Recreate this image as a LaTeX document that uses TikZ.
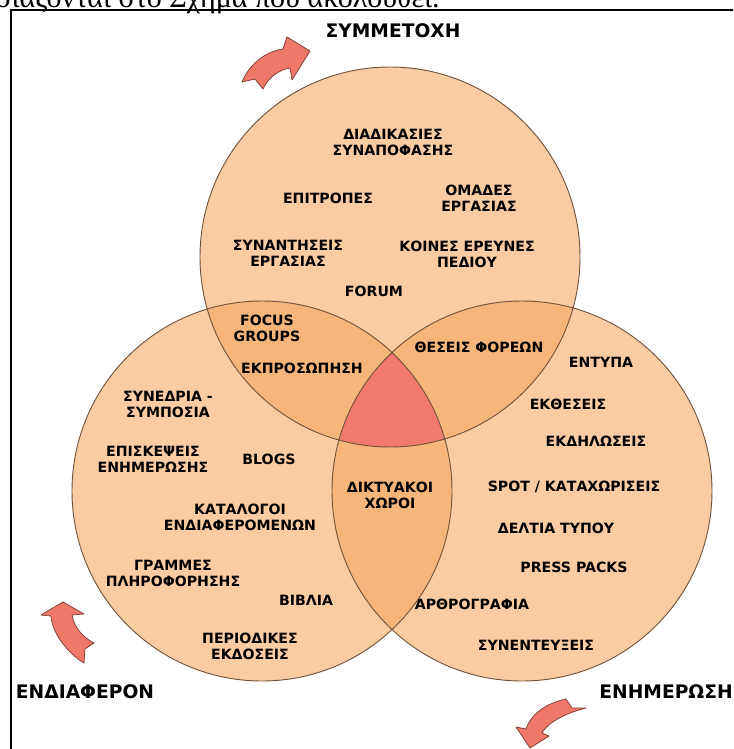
\documentclass[tikz,border=0pt]{standalone}
\usepackage{fontspec}
\setmainfont{DejaVu Sans}
\newfontfamily\pagefont{Liberation Serif}

\definecolor{peach}{RGB}{251,203,162}
\definecolor{apricot}{RGB}{246,181,122}
\definecolor{salmon}{RGB}{242,122,108}
\definecolor{arrowred}{RGB}{240,120,104}
\definecolor{rim}{RGB}{115,85,62}

\tikzset{
  item/.style={font=\bfseries\fontsize{10.6}{12}\selectfont, align=center, inner sep=1pt},
  corner/.style={font=\bfseries\fontsize{14}{16}\selectfont, inner sep=0pt},
  bigarrow/.style={fill=arrowred, draw=arrowred!55!black, line width=0.6pt, line join=round},
}

% the three sets
\def\topset{(390,257) circle[radius=142.5pt]}
\def\leftset{(262,491) circle[radius=142.5pt]}
\def\rightset{(522,491) circle[radius=142.5pt]}

\begin{document}
\begin{tikzpicture}[x=0.75pt,y=-0.75pt]
    \useasboundingbox (0,0) rectangle (733,749);
    \clip (0,0) rectangle (733,749);

    % line of the page above the frame
    \node[font=\pagefont\fontsize{22.5}{26}\selectfont, anchor=base east, inner sep=0pt] (pageline) at (440,8) {παρουσιάζονται στο Σχήμα που ακολουθεί.};
    \draw[line width=1.5pt] (11,760) -- (11,10) -- (745,10);

    % circles and overlaps:
    \fill[peach] \topset;
    \fill[peach] \leftset;
    \fill[peach] \rightset;
    \begin{scope}
        \clip \topset;
        \fill[apricot] \leftset;
        \fill[apricot] \rightset;
    \end{scope}
    \begin{scope}
        \clip \leftset;
        \fill[apricot] \rightset;
    \end{scope}
    \begin{scope}
        \clip \topset;
        \clip \leftset;
        \fill[salmon] \rightset;
    \end{scope}
    \draw[rim, line width=0.7pt] \topset \leftset \rightset;

    % curved arrows round the sets
    \draw[bigarrow] (242,82) -- (255,79) -- (263,89) .. controls (268,78) and (278,70) .. (290,68) -- (292,80) -- (310,51) -- (287,37) -- (283,49) .. controls (264,52) and (249,65) .. cycle;
    \draw[bigarrow] (63,602) -- (84,614) -- (72,615) .. controls (74,628) and (84,638) .. (94,643) -- (85,649) -- (84,663) .. controls (66,652) and (52,632) .. (51,616) -- (41,615) -- cycle;
    \draw[bigarrow] (530,748) -- (516,727) -- (526,729) .. controls (532,712) and (548,703) .. (566,699) -- (572,708) -- (586,708) .. controls (566,713) and (548,722) .. (542,733) -- (549,736) -- cycle;

    % names of the sets
    \node[corner] (symmetoxi) at (393,31) {ΣΥΜΜΕΤΟΧΗ};
    \node[corner] (endiaferon) at (85,692) {ΕΝΔΙΑΦΕΡΟΝ};
    \node[corner, anchor=east] (enimerosi) at (733,692) {ΕΝΗΜΕΡΩΣΗ};

    % top set
    \node[item] (diadikasies) at (393,142) {ΔΙΑΔΙΚΑΣΙΕΣ\\ΣΥΝΑΠΟΦΑΣΗΣ};
    \node[item] (epitropes) at (328,198) {ΕΠΙΤΡΟΠΕΣ};
    \node[item] (omades) at (479,198) {ΟΜΑΔΕΣ\\ΕΡΓΑΣΙΑΣ};
    \node[item] (synantiseis) at (288,253) {ΣΥΝΑΝΤΗΣΕΙΣ\\ΕΡΓΑΣΙΑΣ};
    \node[item] (ereunes) at (467,254) {ΚΟΙΝΕΣ ΕΡΕΥΝΕΣ\\ΠΕΔΙΟΥ};
    \node[item] (forum) at (374,291) {FORUM};

    % overlaps
    \node[item] (focus) at (267,328) {FOCUS\\GROUPS};
    \node[item] (ekprosopisi) at (302,368) {ΕΚΠΡΟΣΩΠΗΣΗ};
    \node[item] (theseis) at (479,347) {ΘΕΣΕΙΣ ΦΟΡΕΩΝ};
    \node[item] (diktyakoi) at (390,495) {ΔΙΚΤΥΑΚΟΙ\\ΧΩΡΟΙ};

    % left set
    \node[item] (synedria) at (168,404) {ΣΥΝΕΔΡΙΑ -\\ΣΥΜΠΟΣΙΑ};
    \node[item] (episkepseis) at (153,459) {ΕΠΙΣΚΕΨΕΙΣ\\ΕΝΗΜΕΡΩΣΗΣ};
    \node[item] (blogs) at (269,459) {BLOGS};
    \node[item] (katalogoi) at (240,517) {ΚΑΤΑΛΟΓΟΙ\\ΕΝΔΙΑΦΕΡΟΜΕΝΩΝ};
    \node[item] (grammes) at (173,573) {ΓΡΑΜΜΕΣ\\ΠΛΗΡΟΦΟΡΗΣΗΣ};
    \node[item] (vivlia) at (306,600) {ΒΙΒΛΙΑ};
    \node[item] (periodikes) at (250,646) {ΠΕΡΙΟΔΙΚΕΣ\\ΕΚΔΟΣΕΙΣ};

    % right set
    \node[item] (entypa) at (601,362) {ΕΝΤΥΠΑ};
    \node[item] (ektheseis) at (568,404) {ΕΚΘΕΣΕΙΣ};
    \node[item] (ekdiloseis) at (596,441) {ΕΚΔΗΛΩΣΕΙΣ};
    \node[item] (spot) at (574,487) {SPOT / ΚΑΤΑΧΩΡΙΣΕΙΣ};
    \node[item] (deltia) at (556,528) {ΔΕΛΤΙΑ ΤΥΠΟΥ};
    \node[item] (press) at (574,567) {PRESS PACKS};
    \node[item] (arthrografia) at (472,604) {ΑΡΘΡΟΓΡΑΦΙΑ};
    \node[item] (synenteuxeis) at (536,645) {ΣΥΝΕΝΤΕΥΞΕΙΣ};
\end{tikzpicture}
\end{document}
